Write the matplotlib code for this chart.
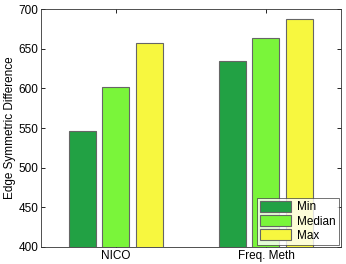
import matplotlib.pyplot as plt
import numpy as np

plt.rcParams['font.family'] = ['Liberation Sans', 'DejaVu Sans']

# --- данные ---
categories = ['NICO', 'Freq. Meth']
series = ['Min', 'Median', 'Max']
min_vals = [546, 635]
median_vals = [602, 663]
max_vals = [657, 687]
colors = ['#22a144', '#7af53a', '#f7f73f']

fig = plt.figure(figsize=(3.46, 2.64), dpi=100)
ax = fig.add_axes([0.1185, 0.0644, 0.867, 0.9015])

x = np.arange(1, len(categories) + 1)
offsets = [-0.223, 0.0, 0.223]
for vals, off, col, lab in zip([min_vals, median_vals, max_vals], offsets, colors, series):
    ax.bar(x + off, vals, width=0.18, color=col, edgecolor='#666666',
           linewidth=0.8, label=lab, zorder=2)

ax.set_xlim(0.5, 2.5)
ax.set_ylim(400, 700)
ax.set_yticks(np.arange(400, 701, 50))
ax.set_xticks(x)
ax.set_xticklabels(categories)
ax.set_ylabel('Edge Symmetric Difference', fontsize=8.5, labelpad=2)

ax.tick_params(direction='in', length=3, width=0.6, labelsize=8.5, pad=2,
               top=True, right=True)
for sp in ax.spines.values():
    sp.set_linewidth(0.6)
    sp.set_color('#333333')

leg = ax.legend(loc='lower right', fontsize=8.5, frameon=True, fancybox=False,
                borderaxespad=0.15, handlelength=2.6, handleheight=1.0,
                labelspacing=0.15, borderpad=0.3, handletextpad=0.5)
leg.get_frame().set_edgecolor('#333333')
leg.get_frame().set_linewidth(0.6)

fig.savefig('out.png', dpi=100)
